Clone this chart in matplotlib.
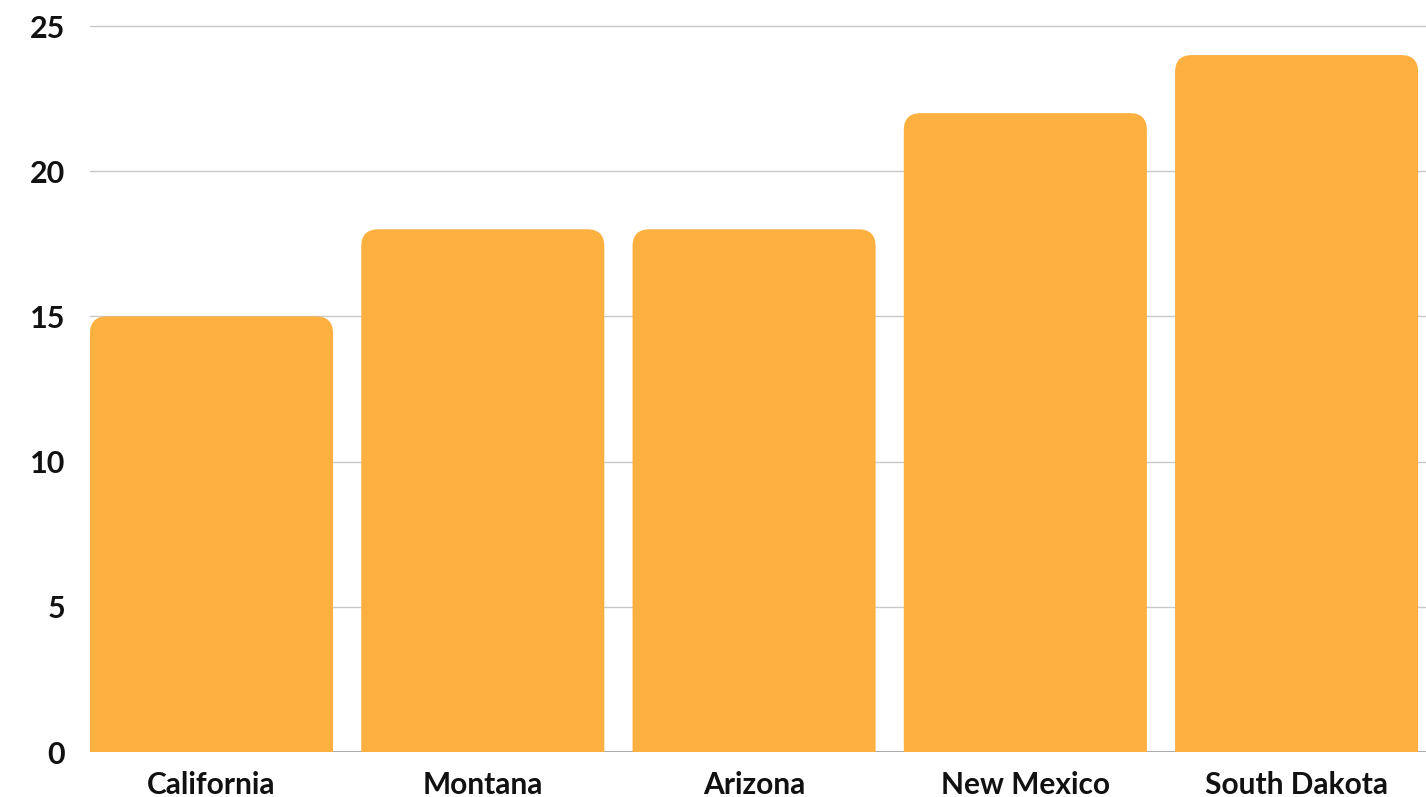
import matplotlib
matplotlib.use("Agg")
import matplotlib.pyplot as plt
from matplotlib.patches import FancyBboxPatch

categories = ["California", "Montana", "Arizona", "New Mexico", "South Dakota"]
values = [15, 18, 18, 22, 24]
yticks = [0, 5, 10, 15, 20, 25]

plt.rcParams['font.family'] = ['Lato', 'DejaVu Sans']

W, H = 1426, 797
fig = plt.figure(figsize=(W / 100, H / 100), dpi=100)
ax = fig.add_axes([90 / W, (H - 752) / H, (1426 - 90) / W, (752 - 17.3) / H])

xlo, xhi = -0.448, 4.477
ylo, yhi = 0, 25.3
ax.set_xlim(xlo, xhi)
ax.set_ylim(ylo, yhi)

color = "#FBB040"
bars = ax.bar(range(len(categories)), values, width=0.896, color=color, zorder=3)
# convert to rounded-top bars
bbox = ax.get_position()
px_per_x = bbox.width * W / (xhi - xlo)
px_per_y = bbox.height * H / (yhi - ylo)
r_px = 17
aspect = px_per_x / px_per_y
for b in bars:
    x, w, h = b.get_x(), b.get_width(), b.get_height()
    b.set_visible(False)
    p = FancyBboxPatch((x, -2), w, h + 2,
                       boxstyle=f"round,pad=0,rounding_size={r_px / px_per_x}",
                       mutation_aspect=aspect, facecolor=color, edgecolor="none",
                       zorder=3)
    ax.add_patch(p)

ax.set_yticks(yticks)
ax.set_xticks(range(len(categories)))
ax.set_xticklabels(categories)
ax.grid(axis="y", color="#c8c8c8", linewidth=1.0, zorder=0)
ax.grid(axis="x", visible=False)
for s in ax.spines.values():
    s.set_visible(False)
ax.axhline(0, color="#9e9e9e", linewidth=1.2, zorder=2)
ax.tick_params(axis="both", length=0)
ax.tick_params(axis="y", pad=18, labelsize=22)
ax.tick_params(axis="x", pad=14, labelsize=21.5)
for lab in ax.get_xticklabels() + ax.get_yticklabels():
    lab.set_fontweight("bold")
    lab.set_color("#111111")

fig.savefig("out.png", dpi=100)
